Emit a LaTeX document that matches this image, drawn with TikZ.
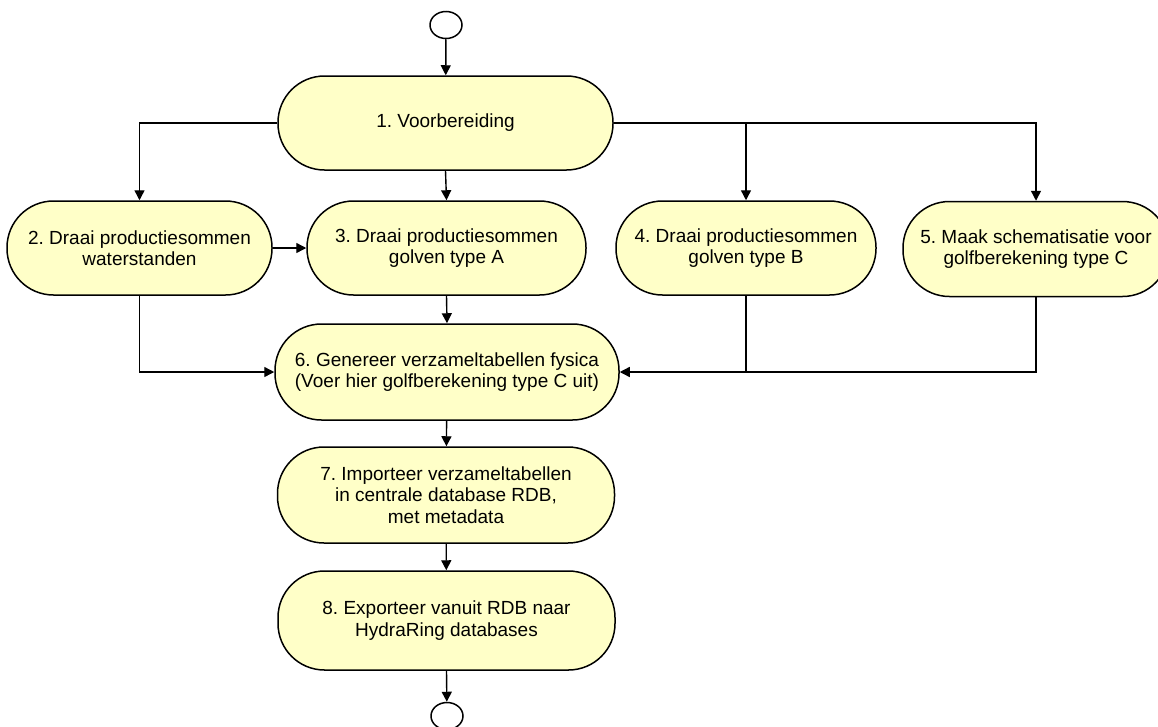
\documentclass[tikz,border=0pt]{standalone}
\usepackage{fontspec}
\setmainfont{Liberation Sans}
\usetikzlibrary{arrows.meta,shapes.geometric}
\definecolor{stepfill}{HTML}{FFFFC8}
\frenchspacing
\begin{document}
\begin{tikzpicture}[x=1pt,y=-1pt,
  stepbox/.style={draw=black, line width=1.5pt, fill=stepfill, inner sep=0pt,
    rounded corners=46.5pt, align=center,
    font=\fontsize{19}{21.5}\selectfont},
  terminal/.style={draw=black, line width=1.5pt, fill=white, ellipse,
    minimum width=32pt, minimum height=27pt, inner sep=0pt},
  flow/.style={line width=1.4pt, -{Triangle[length=10pt,width=10pt]}},
  link/.style={line width=1.4pt}]
\useasboundingbox (0,0) rectangle (1158,726);

\node[terminal] (start) at (446,25) {};
\node[stepbox, minimum width=335pt, minimum height=94pt] (n1) at (445.5,123) {1. Voorbereiding};
\node[stepbox, minimum width=265pt, minimum height=94pt] (n2) at (139.5,248) {2. Draai productiesommen\\waterstanden};
\node[stepbox, minimum width=279pt, minimum height=94pt] (n3) at (446.5,248) {3. Draai productiesommen\\golven type A};
\node[stepbox, minimum width=260pt, minimum height=94pt] (n4) at (746,248) {4. Draai productiesommen\\golven type B};
\node[stepbox, minimum width=266pt, minimum height=95pt] (n5) at (1036,249) {5. Maak schematisatie voor\\golfberekening type C};
\node[stepbox, minimum width=344pt, minimum height=96pt] (n6) at (447,372) {6. Genereer verzameltabellen fysica\\(Voer hier golfberekening type C uit)};
\node[stepbox, minimum width=337pt, minimum height=96pt] (n7) at (446,495) {7. Importeer verzameltabellen\\in centrale database RDB,\\met metadata};
\node[stepbox, minimum width=337pt, minimum height=99pt] (n8) at (446.5,620.5) {8. Exporteer vanuit RDB naar\\HydraRing databases};
\node[terminal] (stop) at (447,716) {};

% main vertical flow
\draw[flow] (start) -- (n1);
\draw[flow] (n1.south) -- (n3.north);
\draw[flow] (n3.south) -- (n6.north);
\draw[flow] (n6) -- (n7);
\draw[flow] (n7) -- (n8);
\draw[flow] (n8.south) -- (stop);

% branches out of step 1
\draw[flow] (n1.west) -| (n2.north);
\draw[flow] (n1.east) -| (n5.north);
\draw[flow] (n4.north |- n1.east) -- (n4.north);

% step 2 to step 3
\draw[flow] (n2.east) -- (n3.west);

% merging into step 6
\draw[flow] (n2.south) |- (n6.west);
\draw[link] (n5.south) |- (n4.south |- n6.east);
\draw[flow] (n4.south) |- (n6.east);
\end{tikzpicture}
\end{document}
